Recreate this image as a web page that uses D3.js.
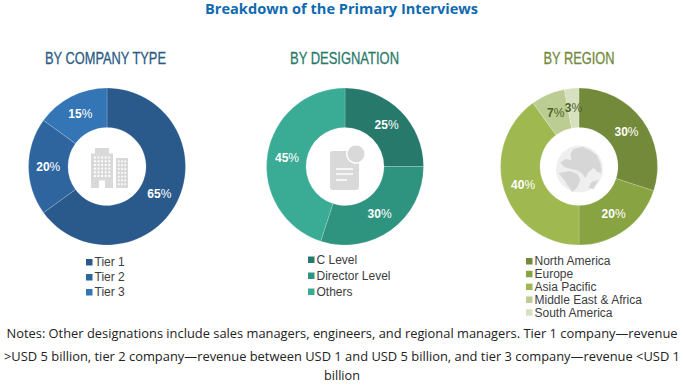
<!DOCTYPE html>
<html>
<head>
<meta charset="utf-8">
<script src="https://cdn.jsdelivr.net/npm/d3@7"></script>
<style>
    html, body { margin: 0; padding: 0; background: #fff; }
    svg { display: block; }
</style>
</head>
<body>
<div id="chart"></div>
<script>

const titleText = "Breakdown of the Primary Interviews";

const companyLabels = ["Tier 1", "Tier 2", "Tier 3"];
const companyValues = [65, 20, 15];
const companyColors = ["#2a5a8c", "#2f659f", "#3375b5"];

const designationLabels = ["C Level", "Director Level", "Others"];
const designationValues = [25, 30, 45];
const designationColors = ["#26796b", "#2e9480", "#3aab94"];

const regionLabels = ["North America", "Europe", "Asia Pacific", "Middle East & Africa", "South America"];
const regionValues = [30, 20, 40, 7, 3];
const regionColors = ["#728a39", "#88a442", "#9fb850", "#bbcd92", "#d7e1c0"];

const noteLines = [
    "Notes: Other designations include sales managers, engineers, and regional managers. Tier 1 company\u2014revenue",
    ">USD 5 billion, tier 2 company\u2014revenue between USD 1 and USD 5 billion, and tier 3 company\u2014revenue <USD 1",
    "billion"
];

const iconGrey = "#d9d9d9";
const width = 683, height = 389;

const svg = d3.select("#chart").append("svg")
    .attr("width", width)
    .attr("height", height);

// plot title
svg.append("text")
    .attr("x", 341.5)
    .attr("y", 14)
    .attr("text-anchor", "middle")
    .attr("textLength", 273)
    .attr("lengthAdjust", "spacingAndGlyphs")
    .attr("style", "font: bold 14px 'Open Sans'; fill: #0f6ab0;")
    .text(titleText);

function makeDonut (definition) {

    const props = { cy: 166.5, outer: 78.5, inner: 39 };

    const pie = d3.pie().sort(null);
    const arc = d3.arc().innerRadius(props.inner).outerRadius(props.outer);
    const labelIndex = d3.scaleOrdinal().domain(definition.labels).range(d3.range(definition.labels.length));

    const g = svg.append("g")
        .attr("transform", `translate(${definition.cx}, ${props.cy})`);

    // heading above the ring, squeezed to look condensed
    svg.append("text")
        .attr("x", definition.headX)
        .attr("y", 64)
        .attr("text-anchor", "middle")
        .attr("textLength", definition.headWidth)
        .attr("lengthAdjust", "spacingAndGlyphs")
        .attr("stroke", definition.headColor)
        .attr("stroke-width", 0.3)
        .attr("style", `font: 16.5px 'Liberation Sans'; fill: ${definition.headColor};`)
        .text(definition.head);

    const slices = pie(definition.values);

    g.selectAll("path.slice")
        .data(slices)
        .join("path")
        .attr("class", "slice")
        .attr("d", arc)
        .attr("fill", (d, i) => definition.colors[i])
        .attr("stroke", "#fff")
        .attr("stroke-opacity", 0.3)
        .attr("stroke-width", 0.6);

    const labels = g.selectAll("text.pct")
        .data(slices)
        .join("text")
        .attr("class", "pct")
        .attr("transform", d => `translate(${arc.centroid(d)})`)
        .attr("dy", "0.36em")
        .attr("text-anchor", "middle")
        .attr("fill", d => d.value < 10 ? "#4f6326" : "#fff")
        .attr("style", "font: bold 12px 'Liberation Sans';");
    labels.append("tspan").text(d => d.value);
    labels.append("tspan").attr("font-weight", "normal").text("%");

    // legend
    const legend = svg.append("g")
        .attr("transform", `translate(${definition.legendX}, ${definition.legendY})`);

    const rows = legend.selectAll("g")
        .data(definition.labels)
        .join("g")
        .attr("transform", d => `translate(0, ${labelIndex(d) * definition.legendStep})`);

    rows.append("rect")
        .attr("y", -3)
        .attr("width", 6.5)
        .attr("height", 6.5)
        .attr("fill", d => definition.colors[labelIndex(d)]);

    rows.append("text")
        .attr("x", 8.5)
        .attr("dy", "0.36em")
        .attr("style", "font: 12px 'Liberation Sans'; fill: #3c3c3c;")
        .text(d => d);

    definition.icon(g.append("g"));
}

// grey tower blocks in the company ring
function buildingIcon (g) {
    g.append("path")
        .attr("fill", iconGrey)
        .attr("d", "M-16,21.5V-13H-12V-18.5H2V-13H6V21.5H-2V14H-8V21.5Z");
    g.append("rect").attr("x", 9).attr("y", -8.5).attr("width", 12).attr("height", 30).attr("fill", iconGrey);

    const main = d3.cross(d3.range(5), d3.range(6));
    g.selectAll("rect.win")
        .data(main)
        .join("rect")
        .attr("class", "win")
        .attr("x", d => -13 + d[0] * 3.6)
        .attr("y", d => -10 + d[1] * 3.7)
        .attr("width", 1.8)
        .attr("height", 2)
        .attr("fill", "#fff");

    const side = d3.cross(d3.range(3), d3.range(7));
    g.selectAll("rect.win2")
        .data(side)
        .join("rect")
        .attr("class", "win2")
        .attr("x", d => 11 + d[0] * 3.2)
        .attr("y", d => -6 + d[1] * 3.8)
        .attr("width", 1.6)
        .attr("height", 1.8)
        .attr("fill", "#fff");
}

// grey document with a badge in the designation ring
function documentIcon (g) {
    g.append("rect")
        .attr("x", -15).attr("y", -15.5)
        .attr("width", 29).attr("height", 39)
        .attr("rx", 3)
        .attr("fill", iconGrey);
    g.append("circle").attr("cx", 11).attr("cy", -12.5).attr("r", 10).attr("fill", "#fff");
    g.append("circle").attr("cx", 11).attr("cy", -12.5).attr("r", 8.5).attr("fill", iconGrey);
    g.append("path")
        .attr("stroke", "#fff")
        .attr("stroke-width", 1.5)
        .attr("fill", "none")
        .attr("d", "M-9,2.5H8M-9,7.5H8M-9,13.5H2");
}

// grey globe in the region ring
function globeIcon (g) {
    g = g.append("g").attr("transform", "translate(0.5, 2.5)");
    g.append("circle").attr("r", 23.5).attr("fill", "#efefef");
    g.append("path")
        .attr("fill", "#d6d6d6")
        .attr("d", "M-6,-20L3,-22L10,-19L17,-14L21,-6L22,4L18,3L14,-1L9,3L6,9L2,4L-3,1L-9,0L-15,-2L-19,-6L-14,-10L-8,-9L-9,-15Z");
    g.append("path")
        .attr("fill", "#d6d6d6")
        .attr("d", "M-21,4L-10,2L-2,5L1,11L-2,18L-7,23L-12,16L-16,10ZM12,13L19,11L14,20L9,19Z");
}

makeDonut({
    head: "BY COMPANY TYPE", headX: 105.5, headWidth: 121, headColor: "#2b5a85",
    cx: 107, values: companyValues, labels: companyLabels, colors: companyColors,
    legendX: 86, legendY: 262, legendStep: 15, icon: buildingIcon
});

makeDonut({
    head: "BY DESIGNATION", headX: 344.5, headWidth: 109, headColor: "#2a7a6b",
    cx: 345, values: designationValues, labels: designationLabels, colors: designationColors,
    legendX: 308, legendY: 259.5, legendStep: 16, icon: documentIcon
});

makeDonut({
    head: "BY REGION", headX: 579, headWidth: 71, headColor: "#728a39",
    cx: 579, values: regionValues, labels: regionLabels, colors: regionColors,
    legendX: 526, legendY: 261, legendStep: 12.8, icon: globeIcon
});

// footnote
const noteWidths = [671, 676, 36];
svg.selectAll("text.note")
    .data(noteLines)
    .join("text")
    .attr("class", "note")
    .attr("x", 342)
    .attr("y", (d, i) => [338, 361, 380][i])
    .attr("text-anchor", "middle")
    .attr("textLength", (d, i) => noteWidths[i])
    .attr("lengthAdjust", "spacingAndGlyphs")
    .attr("style", "font: 12.5px 'Open Sans'; fill: #222;")
    .text(d => d);

</script>
</body>
</html>
